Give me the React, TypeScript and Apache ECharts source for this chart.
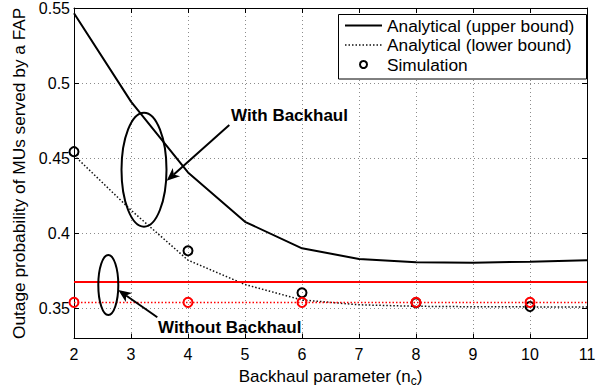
import React, { useEffect, useRef } from "react";
import * as echarts from "echarts";

// Backhaul parameter values
const nc = [2, 3, 4, 5, 6, 7, 8, 9, 10, 11];
// With backhaul: analytical bounds
const upperBound = [0.5465, 0.4877, 0.4406, 0.4077, 0.3901, 0.383, 0.3808, 0.3805, 0.3812, 0.3822];
const lowerBound = [0.452, 0.4155, 0.3822, 0.366, 0.3557, 0.3525, 0.3515, 0.3512, 0.3511, 0.351];
// With backhaul: simulation points
const simX = [2, 4, 6, 8, 10];
const simWith = [0.4544, 0.3884, 0.3605, 0.3538, 0.3513];
// Without backhaul: constant bounds and simulation
const noBhUpper = [0.3676, 0.3676, 0.3676, 0.3676, 0.3676, 0.3676, 0.3676, 0.3676, 0.3676, 0.3676];
const noBhLower = [0.3541, 0.3541, 0.3541, 0.3541, 0.3541, 0.3541, 0.3541, 0.3541, 0.3541, 0.3541];
const simWithout = [0.3541, 0.3541, 0.3541, 0.3541, 0.3541];
// Y tick labels
const yTicks = [0.35, 0.4, 0.45, 0.5, 0.55];

const FONT = "'Liberation Sans', Arial, Helvetica, sans-serif";
const RED = "#ff0000";
const DOT = [1.5, 2];

const zip = (xs: number[], ys: number[]) => xs.map((x, i) => [x, ys[i]]);

function arrow(from: [number, number], tip: [number, number]) {
  const dx = tip[0] - from[0];
  const dy = tip[1] - from[1];
  const l = Math.hypot(dx, dy);
  const ux = dx / l;
  const uy = dy / l;
  const nx = -uy;
  const ny = ux;
  const len = 13;
  const half = 5.5;
  const notch = 3.5;
  const bx = tip[0] - ux * len;
  const by = tip[1] - uy * len;
  const mx = tip[0] - ux * (len - notch);
  const my = tip[1] - uy * (len - notch);
  return [
    {
      type: "line",
      shape: { x1: from[0], y1: from[1], x2: mx, y2: my },
      style: { stroke: "#000", lineWidth: 2 },
    },
    {
      type: "polygon",
      shape: {
        points: [
          tip,
          [bx + nx * half, by + ny * half],
          [mx, my],
          [bx - nx * half, by - ny * half],
        ],
      },
      style: { fill: "#000" },
    },
  ];
}

export default function App() {
  const ref = useRef<HTMLDivElement>(null);

  useEffect(() => {
    if (!ref.current) return;
    const chart = echarts.init(ref.current, null, { renderer: "svg" });

    const gridLine = { show: true, lineStyle: { color: "#8c8c8c", type: [1, 3] as any, width: 1 } };
    const tickIn = { show: true, inside: true, length: 5, lineStyle: { color: "#000", width: 1 } };
    const axisLine = { show: true, onZero: false, lineStyle: { color: "#000", width: 1 } };
    const legendFont = `17.3px ${FONT}`;

    const option: any = {
      animation: false,
      backgroundColor: "#fff",
      textStyle: { fontFamily: FONT },
      grid: { left: 74, right: 21, top: 7, bottom: 52, containLabel: false },
      xAxis: [
        {
          type: "value",
          min: 2,
          max: 11,
          interval: 1,
          position: "bottom",
          axisLine,
          axisTick: tickIn,
          splitLine: gridLine,
          axisLabel: { color: "#000", fontSize: 16, fontFamily: FONT, margin: 8 },
          name: "Backhaul parameter (n{sub|c})",
          nameLocation: "middle",
          nameGap: 21,
          nameTextStyle: {
            color: "#000",
            fontSize: 17,
            fontFamily: FONT,
            rich: {
              sub: { fontSize: 12, fontFamily: FONT, color: "#000", verticalAlign: "bottom", padding: [10, 0, 0, 0] },
            },
          },
        },
        {
          type: "value",
          min: 2,
          max: 11,
          interval: 1,
          position: "top",
          axisLine,
          axisTick: tickIn,
          splitLine: { show: false },
          axisLabel: { show: false },
        },
      ],
      yAxis: [
        {
          type: "value",
          min: 0.33,
          max: 0.55,
          position: "left",
          axisLine,
          axisTick: { ...tickIn, customValues: yTicks },
          splitLine: gridLine,
          axisLabel: {
            color: "#000",
            fontSize: 16,
            fontFamily: FONT,
            margin: 4,
            customValues: yTicks,
            formatter: (v: number) => String(+v.toFixed(2)),
          },
          name: "Outage probability of MUs served by a FAP",
          nameLocation: "middle",
          nameGap: 45,
          nameTextStyle: { color: "#000", fontSize: 17.3, fontFamily: FONT },
        },
        {
          type: "value",
          min: 0.33,
          max: 0.55,
          position: "right",
          axisLine,
          axisTick: { ...tickIn, customValues: yTicks },
          splitLine: { show: false },
          axisLabel: { show: false, customValues: yTicks },
        },
      ],
      series: [
        {
          name: "Analytical (upper bound)",
          type: "line",
          data: zip(nc, upperBound),
          symbol: "none",
          lineStyle: { color: "#000", width: 2 },
          z: 3,
        },
        {
          name: "Analytical (lower bound)",
          type: "line",
          data: zip(nc, lowerBound),
          symbol: "none",
          lineStyle: { color: "#111", width: 1.5, type: DOT },
          z: 3,
        },
        {
          name: "Simulation",
          type: "scatter",
          data: zip(simX, simWith),
          symbol: "circle",
          symbolSize: 9,
          itemStyle: { color: "rgba(0,0,0,0)", borderColor: "#000", borderWidth: 2, opacity: 1 },
          z: 4,
        },
        {
          name: "Without backhaul (upper)",
          type: "line",
          data: zip(nc, noBhUpper),
          symbol: "none",
          lineStyle: { color: RED, width: 2 },
          z: 5,
        },
        {
          name: "Without backhaul (lower)",
          type: "line",
          data: zip(nc, noBhLower),
          symbol: "none",
          lineStyle: { color: RED, width: 1.5, type: DOT },
          z: 5,
        },
        {
          name: "Without backhaul (simulation)",
          type: "scatter",
          data: zip(simX, simWithout),
          symbol: "circle",
          symbolSize: 9,
          itemStyle: { color: "rgba(0,0,0,0)", borderColor: RED, borderWidth: 2, opacity: 1 },
          z: 6,
        },
      ],
      graphic: [
        // legend box
        {
          type: "rect",
          shape: { x: 338.5, y: 14.5, width: 248, height: 64.5 },
          style: { fill: "#fff", stroke: "#000", lineWidth: 1 },
          z: 100,
        },
        {
          type: "line",
          shape: { x1: 345, y1: 25.5, x2: 382, y2: 25.5 },
          style: { stroke: "#000", lineWidth: 2 },
          z: 101,
        },
        {
          type: "line",
          shape: { x1: 345, y1: 45, x2: 382, y2: 45 },
          style: { stroke: "#111", lineWidth: 1.5, lineDash: DOT },
          z: 101,
        },
        {
          type: "circle",
          shape: { cx: 363.5, cy: 64.5, r: 3.5 },
          style: { fill: "none", stroke: "#000", lineWidth: 2 },
          z: 101,
        },
        {
          type: "text",
          x: 387,
          y: 25.5,
          style: { text: "Analytical (upper bound)", font: legendFont, fill: "#000", verticalAlign: "middle" },
          z: 101,
        },
        {
          type: "text",
          x: 387,
          y: 45,
          style: { text: "Analytical (lower bound)", font: legendFont, fill: "#000", verticalAlign: "middle" },
          z: 101,
        },
        {
          type: "text",
          x: 387,
          y: 64.5,
          style: { text: "Simulation", font: legendFont, fill: "#000", verticalAlign: "middle" },
          z: 101,
        },
        // "With Backhaul" annotation
        {
          type: "ellipse",
          shape: { cx: 144, cy: 169.7, rx: 22.5, ry: 57 },
          style: { fill: "none", stroke: "#000", lineWidth: 2 },
          z: 90,
        },
        ...arrow([229.3, 125], [166.7, 180.7]).map((e) => ({ ...e, z: 90 })),
        {
          type: "text",
          x: 231,
          y: 115,
          style: { text: "With Backhaul", font: `bold 17px ${FONT}`, fill: "#000", verticalAlign: "middle" },
          z: 90,
        },
        // "Without Backhaul" annotation
        {
          type: "ellipse",
          shape: { cx: 108.3, cy: 285, rx: 10, ry: 30 },
          style: { fill: "none", stroke: "#000", lineWidth: 2 },
          z: 90,
        },
        ...arrow([157.3, 317.3], [118.3, 290]).map((e) => ({ ...e, z: 90 })),
        {
          type: "text",
          x: 158,
          y: 327,
          style: { text: "Without Backhaul", font: `bold 17px ${FONT}`, fill: "#000", verticalAlign: "middle" },
          z: 90,
        },
      ],
    };

    chart.setOption(option);
    return () => chart.dispose();
  }, []);

  return <div ref={ref} style={{ width: 608, height: 392, position: "absolute", left: 0, top: 0 }} />;
}
